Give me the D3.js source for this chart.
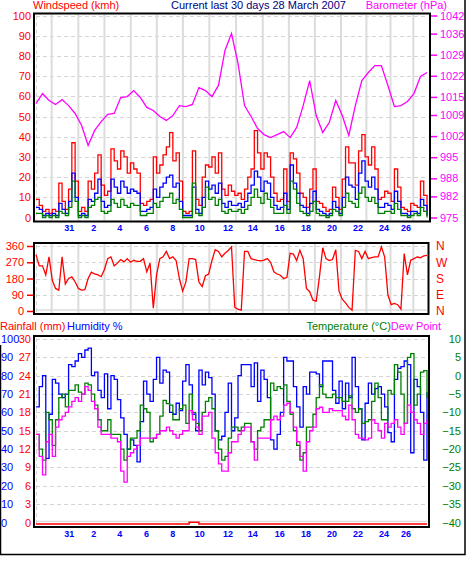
<!DOCTYPE html>
<html>
<head>
<meta charset="utf-8">
<script src="https://cdn.jsdelivr.net/npm/d3@7"></script>
<style>
  body { margin: 0; background: #fff; }
  svg { display: block; }
  text { font-family: "Liberation Sans", Arial, sans-serif; }
</style>
</head>
<body>
<div id="chart"></div>
<script>
// readings every 6 hours over the 30 days (121 samples), barometer every 12 hours
const gustKmh = [9,6,3,4,2,4,3,17,8,4, 14,37,18,3,5,3,18,14,22,31, 16,11,13,34,28,24,33,30,22,27,
  24,22,7,6,8,9,30,22,26,31, 35,42,28,32,18,3,2,3,33,9, 6,20,26,25,30,22,32,14,11,16, 13,
  11,12,9,14,20,24,43,32,24,32, 30,20,12,8,9,24,8,32,29,22, 12,10,5,14,24,8,7,5,3,4,
  15,10,4,19,35,27,27,16,33,41, 30,26,35,24,9,10,13,12,8,24, 15,5,4,3,7,6,5,18,11,1];
const avgKmh = [5,4,1,2,1,2,1,7,4,2, 8,22,10,1,2,1,9,8,12,19, 8,5,6,19,15,12,18,15,12,14,
  13,12,3,3,4,5,14,10,15,17, 20,21,15,17,8,1,1,1,15,4, 2,10,18,14,16,12,17,7,5,8, 6,
  6,7,5,8,12,16,23,20,13,18, 17,10,6,4,5,12,4,26,17,12, 6,5,2,7,13,4,3,2,1,2,
  8,5,2,10,20,16,15,9,22,28, 18,15,20,14,5,5,7,6,4,13, 8,2,2,1,3,3,2,9,6,1];
const lowKmh = [2,2,0,1,0,1,0,3,2,1, 5,18,8,0,1,0,5,6,9,10, 3,2,3,9,7,5,9,6,5,7,
  6,6,1,1,2,2,7,5,8,10, 10,12,7,9,4,0,0,0,17,2, 1,5,15,9,10,6,9,3,2,4, 3,
  3,4,2,4,6,10,14,10,7,12, 9,5,2,2,2,6,2,18,14,7, 3,2,1,3,8,2,1,1,0,1,
  4,3,1,5,12,8,7,5,12,15, 10,8,10,7,2,2,3,3,2,7, 4,1,1,0,1,2,1,5,3,0];
const barometerHpa = [1012.8,1016.1,1013.8,1012.5,1014.1,1012.1,1009.5,1005.5,998.9,1003.9,
  1006.8,1009.2,1009.5,1014.8,1015.1,1017.1,1014.8,1011.5,1010.5,1008.5,
  1007.2,1008.8,1012.1,1011.8,1012.5,1018.1,1017.1,1015.1,1018.8,1030.4,
  1036.0,1026.1,1012.1,1008.5,1004.5,1002.5,1001.5,1002.5,1003.5,1001.5,
  1004.9,1012.1,1020.4,1008.8,1003.2,1006.5,1013.8,1008.8,1002.2,1012.1,
  1020.4,1023.1,1025.4,1025.4,1018.8,1011.8,1012.1,1013.5,1016.1,1021.8, 1023.1];
const directionDeg = [312,250,250,200,300,170,125,115,300,150, 180,189,162,125,116,118,180,215,205,200,
  190,230,290,300,250,265,285,272,290,270, 281,275,275,290,217,265,15,200,290,300,
  330,290,300,280,180,110,160,290,290,285, 160,135,195,205,280,340,330,300,320,335, 355,
  20,10,5,330,330,290,285,280,278,282, 290,270,217,205,198,180,185,320,315,280,
  336,290,125,107,60,55,190,350,290,280, 285,340,110,65,45,20,5,336,330,290,
  330,290,295,300,300,355,300,90,35,42, 35,10,318,200,281,290,299,295,305,308];
const humidityPct = [63,74,80,35,59,78,76,70,68,70, 86,85,88,92,90,94,95,80,82,72,
  68,81,62,80,78,67,57,48,40,45, 42,33,55,77,70,66,78,90,76,83,
  82,60,59,65,61,77,86,75,59,50, 83,75,82,79,70,50,45,47,60,76, 50,
  57,80,86,86,86,74,87,66,83,78, 68,45,40,48,60,90,88,88,74,63,
  52,74,70,82,82,81,74,88,88,88, 72,65,77,62,76,68,90,74,62,45,
  65,76,70,73,74,70,63,49,44,78, 84,85,88,86,38,78,74,60,34,71];
const temperatureC = [-16,-20,-23,-10,-12,-19,-12,-6,-5,-8.5, -4,-4,-2.5,-4.5,-5,-2,-2.5,-5,-8,-12,
  -15,-15,-12,-16,-16,-16,-20,-23,-20,-17, -17,-15,-8,-9,-10,-18,-17,-16,-11,-6.7,
  -7.6,-8,-12,-12,-9,-8,-13,-5,-10,-13, -15,-10,-7,-6,-9,-15,-20,-23,-22,-17, -14,
  -14,-15,-14,-13,-13,-18,-20,-15,-14,-12, -12,-2,-4,-3,-3.5,-2.5,-7,-10.5,-15,-19,
  -23,-21,-14,-14,-10.5,-6,-2.5,-5,-6,-6, -5,-6,-6,-7,-7,-5.5,-9,-10,-9,-13,
  -12.5,-12,-7,-2,-6,-12,-12,-4,-5,3, 1,-5,-13,5,6,-8,-5,1,1.4,-6];
const dewPointC = [-16,-22,-27,-18,-16,-22,-14,-12,-11,-10, -8.5,-7,-6,-7,-5,-3,-4,-7,-9,-14,
  -16,-16,-16,-17,-17,-18,-26,-29,-22,-21, -20,-19,-17,-17,-17,-17,-17,-16,-15,-15,
  -14,-15,-16,-17,-16,-15,-15,-9.5,-12,-14, -16,-11,-11,-10,-17,-21,-24,-26,-26,-21, -18,
  -18,-16,-15,-14,-14,-18,-23,-17,-17,-17, -17,-12,-11,-12,-11,-8,-7.5,-10,-14,-18,
  -22,-26,-18,-15,-14,-9,-8.6,-10,-10,-9, -9.5,-9.5,-9.5,-11,-12,-8,-12,-16,-17,-17,
  -17.5,-17,-12,-13,-15,-17,-13,-14,-13,-12, -14,-16,-13,-8,-10,-12,-13,-16,-13,-12];
const rainMm = [0,0,0,0,0,0,0,0,0,0, 0,0,0,0,0,0,0,0,0,0, 0,0,0,0,0,0,0,0,0,0,
  0,0,0,0,0,0,0,0,0,0, 0,0,0,0,0,0,0,0.3,0.3,0.3, 0,0,0,0,0,0,0,0,0,0, 0,
  0,0,0,0,0,0,0,0,0,0, 0,0,0,0,0,0,0,0,0,0, 0,0,0,0,0,0,0,0,0,0,
  0,0,0,0,0,0,0,0,0,0, 0,0,0,0,0,0,0,0,0,0, 0,0,0,0,0,0,0,0,0,0];

// day positions of the grey day lines and of the date labels
const gridDays = [1.2, 3.25, 5.25, 7.27, 9.27, 11.27, 13.3, 15.35, 17.4, 19.4, 21.4, 23.4, 25.35, 27.2, 28.95];
const dateLabels = ["31","2","4","6","8","10","12","14","16","18","20","22","24","26"];
const labelDays = [2.55, 4.43, 6.43, 8.48, 10.5, 12.57, 14.74, 16.64, 18.7, 20.72, 22.72, 24.71, 26.71, 28.38];

const windTicks = [0,10,20,30,40,50,60,70,80,90,100];
const baroTicks = [975,982,988,995,1002,1009,1015,1022,1029,1036,1042];
const dirTicks = [0,90,180,270,360];
const compass = ["N","E","S","W","N"];
const humTicks = [0,10,20,30,40,50,60,70,80,90,100];
const rainTicks = [0,3,6,9,12,15,18,21,24,27,30];
const tempTicks = [-40,-35,-30,-25,-20,-15,-10,-5,0,5,10];

const colours = {
  red: "#ff0000", blue: "#0000ff", green: "#008000", magenta: "#ff00ff",
  navy: "#000080", grid: "#dcdcdc", dash: "#d4d4d4"
};

const size = { width: 466, height: 563 };
const panels = {
  wind: { left: 34, right: 430, top: 13.5, bottom: 221.5 },
  dir:  { left: 34, right: 428.5, top: 243, bottom: 314 },
  hum:  { left: 34, right: 429, top: 336, bottom: 527 }
};

function toPoints(values) {
  return values.map((v, i) => [i * 30 / (values.length - 1), v]);
}

function createScales() {
  return {
    x: d3.scaleLinear().domain([0, 30]).range([36, 427]),
    wind: d3.scaleLinear().domain([0, 100]).range([217.5, 15.5]),
    baro: d3.scaleLinear().domain([975, 1042]).range([217.5, 15.5]),
    dir: d3.scaleLinear().domain([0, 360]).range([311, 246]),
    hum: d3.scaleLinear().domain([0, 100]).range([522.5, 339]),
    rain: d3.scaleLinear().domain([0, 30]).range([524, 340.5]),
    temp: d3.scaleLinear().domain([-40, 10]).range([522.5, 339])
  };
}

function gridlines(svg, scale, yScale, panel, values, solidValues, vertical) {
  const g = svg.append("g");
  g.selectAll(".h").data(values).join("line")
    .attr("x1", scale.x(0)).attr("x2", panel.right - 2)
    .attr("y1", d => Math.round(yScale(d)) + 0.5).attr("y2", d => Math.round(yScale(d)) + 0.5)
    .attr("stroke", colours.dash).attr("stroke-dasharray", "4,3");
  g.selectAll(".s").data(solidValues).join("line")
    .attr("x1", scale.x(0)).attr("x2", panel.right - 2)
    .attr("y1", d => yScale(d) - 1).attr("y2", d => yScale(d) - 1)
    .attr("stroke", colours.grid).attr("stroke-width", 1.5);
  g.append("line")
    .attr("x1", scale.x(0) + 0.5).attr("x2", scale.x(0) + 0.5)
    .attr("y1", panel.top + 2).attr("y2", panel.bottom - 2)
    .attr("stroke", colours.dash).attr("stroke-dasharray", "4,3");
  if (vertical) {
    g.selectAll(".v").data(gridDays).join("line")
      .attr("x1", d => scale.x(d)).attr("x2", d => scale.x(d))
      .attr("y1", panel.top + 1).attr("y2", panel.bottom - 1)
      .attr("stroke", colours.grid).attr("stroke-width", 2);
  }
}

function drawLine(svg, scale, yScale, values, colour, curve, width) {
  const line = d3.line()
    .x(d => scale.x(d[0]))
    .y(d => yScale(d[1]))
    .curve(curve);
  return svg.append("path")
    .datum(toPoints(values))
    .attr("d", line)
    .attr("fill", "none")
    .attr("stroke", colour)
    .attr("stroke-width", width || 1.3);
}

function frame(svg, panel) {
  svg.append("rect")
    .attr("x", panel.left).attr("y", panel.top)
    .attr("width", panel.right - panel.left).attr("height", panel.bottom - panel.top)
    .attr("fill", "none").attr("stroke", "#000").attr("stroke-width", 2);
}

function styleAxis(g, colour, fontSize) {
  g.select(".domain").remove();
  g.selectAll("line").attr("stroke", colour).attr("stroke-width", 1.5);
  g.selectAll("text").attr("fill", colour).style("font-size", fontSize + "px")
    .style("font-family", '"Liberation Sans", Arial, sans-serif');
}

function dateAxis(svg, scale, y) {
  svg.append("g").selectAll("text").data(dateLabels).join("text")
    .attr("x", (d, i) => scale.x(labelDays[i]))
    .attr("y", y)
    .attr("text-anchor", "middle")
    .attr("fill", colours.blue)
    .style("font-size", "9px")
    .style("font-weight", "bold")
    .text(d => d);
}

function label(svg, x, y, txt, colour, anchor) {
  svg.append("text").attr("x", x).attr("y", y)
    .attr("text-anchor", anchor || "start")
    .attr("fill", colour).style("font-size", "11px").text(txt);
}

function draw(scale) {
  const svg = d3.select("#chart").append("svg")
    .attr("width", size.width)
    .attr("height", size.height);

  // ---- wind & barometer ----
  gridlines(svg, scale, scale.wind, panels.wind, windTicks.slice(1), [], true);
  drawLine(svg, scale, scale.baro, barometerHpa, colours.magenta, d3.curveLinear);
  drawLine(svg, scale, scale.wind, gustKmh, colours.red, d3.curveStepAfter);
  drawLine(svg, scale, scale.wind, avgKmh, colours.blue, d3.curveStepAfter);
  drawLine(svg, scale, scale.wind, lowKmh, colours.green, d3.curveStepAfter);

  svg.append("g").attr("transform", "translate(34,0)")
    .call(d3.axisLeft(scale.wind).tickValues(windTicks).tickSize(0).tickPadding(3))
    .call(g => styleAxis(g, colours.red, 11));
  svg.append("g").attr("transform", "translate(431,0)")
    .call(d3.axisRight(scale.baro).tickValues(baroTicks).tickSize(6).tickPadding(3)
      .tickFormat(d3.format("d")))
    .call(g => styleAxis(g, colours.magenta, 11));
  dateAxis(svg, scale, 231);

  // ---- wind direction ----
  gridlines(svg, scale, scale.dir, panels.dir, dirTicks.slice(1), [0], true);
  drawLine(svg, scale, scale.dir, directionDeg, colours.red, d3.curveLinear);
  svg.append("g").attr("transform", "translate(33,0)")
    .call(d3.axisLeft(scale.dir).tickValues(dirTicks).tickSize(6).tickPadding(3))
    .call(g => styleAxis(g, colours.red, 11));
  svg.append("g").attr("transform", "translate(433,0)")
    .call(d3.axisRight(scale.dir).tickValues(dirTicks).tickSize(0).tickPadding(3)
      .tickFormat((d, i) => compass[i]))
    .call(g => styleAxis(g, colours.red, 12));

  // ---- humidity, temperature, dew point, rain ----
  gridlines(svg, scale, scale.hum, panels.hum, humTicks.slice(1), [0], false);
  drawLine(svg, scale, scale.hum, humidityPct, colours.blue, d3.curveStepAfter);
  drawLine(svg, scale, scale.temp, temperatureC, colours.green, d3.curveStepAfter);
  drawLine(svg, scale, scale.temp, dewPointC, colours.magenta, d3.curveStepAfter);
  drawLine(svg, scale, scale.rain, rainMm, colours.red, d3.curveStepAfter, 1.5);

  svg.append("g").attr("transform", "translate(0,0)")
    .call(d3.axisRight(scale.hum).tickValues(humTicks).tickSize(0).tickPadding(1))
    .call(g => styleAxis(g, colours.blue, 11));
  svg.append("g").attr("transform", "translate(34,0)")
    .call(d3.axisLeft(scale.hum).tickValues(humTicks).tickSize(0).tickPadding(3)
      .tickFormat((d, i) => rainTicks[i]))
    .call(g => styleAxis(g, colours.red, 11));
  svg.append("g").attr("transform", "translate(461,0)")
    .call(d3.axisLeft(scale.temp).tickValues(tempTicks).tickSize(0).tickPadding(0))
    .call(g => styleAxis(g, colours.green, 11));
  dateAxis(svg, scale, 537);

  frame(svg, panels.wind);
  frame(svg, panels.dir);
  frame(svg, panels.hum);

  // titles
  label(svg, 33, 9, "Windspeed (kmh)", colours.red);
  label(svg, 171, 9, "Current last 30 days 28 March 2007", colours.navy);
  label(svg, 447, 9, "Barometer (hPa)", colours.magenta, "end");
  label(svg, 0, 330, "Rainfall (mm)", colours.red);
  label(svg, 67, 330, "Humidity %", colours.blue);
  const tl = svg.append("text").attr("x", 441).attr("y", 330)
    .attr("text-anchor", "end").style("font-size", "11px");
  tl.append("tspan").attr("fill", colours.green).text("Temperature (\u00B0C)");
  tl.append("tspan").attr("fill", colours.magenta).text("Dew Point");

  // outer border
  svg.append("path")
    .attr("d", "M0.5,345 V554.5 H465 V0")
    .attr("fill", "none").attr("stroke", "#000").attr("stroke-width", 1.5);
}

draw(createScales());
</script>
</body>
</html>
